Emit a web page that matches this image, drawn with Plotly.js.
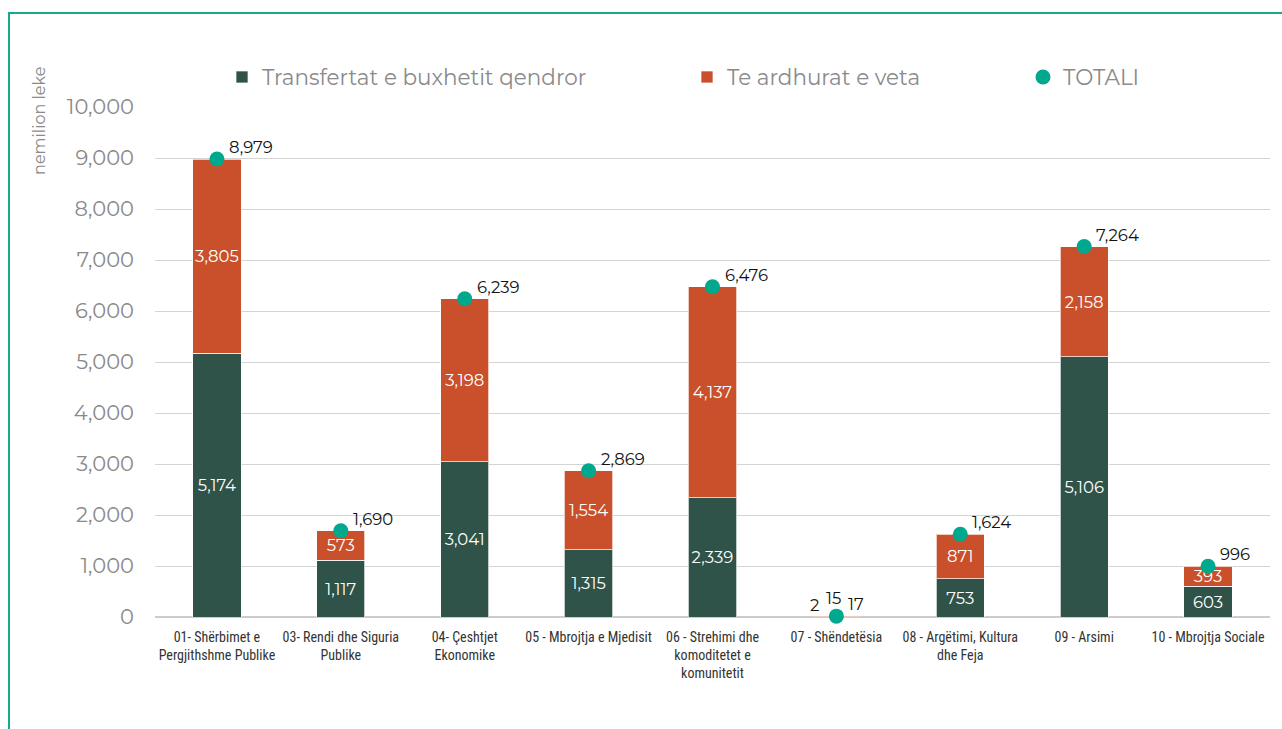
<!DOCTYPE html>
<html>
<head>
<meta charset="utf-8">
<script src="https://cdn.plot.ly/plotly-3.0.1.min.js"></script>
<style>
  html, body { margin: 0; padding: 0; background: #fff; }
  #frame { position: absolute; left: 8px; top: 12px; width: 1290px; height: 730px;
           border-left: 2px solid #16a98d; border-top: 2px solid #16a98d; }
  #chart { position: absolute; left: 0; top: 0; width: 1282px; height: 729px; }
</style>
</head>
<body>
<div id="frame"></div>
<div id="chart"></div>
<script>
const categories = [
  "01- Shërbimet e<br>Pergjithshme Publike",
  "03- Rendi dhe Siguria<br>Publike",
  "04- Çeshtjet<br>Ekonomike",
  "05 - Mbrojtja e Mjedisit",
  "06 - Strehimi dhe<br>komoditetet e<br>komunitetit",
  "07 - Shëndetësia",
  "08 - Argëtimi, Kultura<br>dhe Feja",
  "09 - Arsimi",
  "10 - Mbrojtja Sociale"
];
const transfertat = [5174, 1117, 3041, 1315, 2339, 2, 753, 5106, 603];
const teArdhurat  = [3805, 573, 3198, 1554, 4137, 15, 871, 2158, 393];
const totali      = [8979, 1690, 6239, 2869, 6476, 17, 1624, 7264, 996];
const seriesNames = ["Transfertat e buxhetit qendror", "Te ardhurat e veta", "TOTALI"];

const fmt = v => v.toLocaleString('en-US');
const SMALL = 100;
const GREEN = '#2f5249', ORANGE = '#c9502a', TEAL = '#00a88e';
const numFont = 'Montserrat, "Open Sans", Lato, sans-serif';
const catFont = '"Liberation Sans Narrow", "Roboto Condensed", "DejaVu Sans Condensed", sans-serif';

const barCommon = {
  type: 'bar', x: categories,
  textposition: 'inside', insidetextanchor: 'middle', textangle: 0,
  textfont: { family: numFont, size: 16.5, color: '#ffffff' },
  hoverinfo: 'skip', cliponaxis: false
};

const traces = [
  Object.assign({}, barCommon, {
    name: seriesNames[0], y: transfertat,
    text: transfertat.map(v => v < SMALL ? '' : fmt(v)),
    marker: { color: GREEN, line: { color: 'rgba(255,255,255,0.7)', width: 1 } },
    legend: 'legend'
  }),
  Object.assign({}, barCommon, {
    name: seriesNames[1], y: teArdhurat,
    text: teArdhurat.map(v => v < SMALL ? '' : fmt(v)),
    marker: { color: ORANGE, line: { color: 'rgba(255,255,255,0.7)', width: 1 } },
    legend: 'legend2'
  }),
  {
    type: 'scatter', mode: 'markers', name: seriesNames[2],
    x: categories, y: totali,
    marker: { color: TEAL, size: 15 },
    cliponaxis: false, hoverinfo: 'skip',
    legend: 'legend3'
  }
];

const labelFont = { family: numFont, size: 16.5, color: '#111111' };
const annotations = [];
categories.forEach((c, i) => {
  // total labels: up-right of each dot
  annotations.push({ x: c, y: totali[i], text: fmt(totali[i]), showarrow: false,
    xanchor: 'left', yanchor: 'middle', xshift: 10, yshift: 12, font: labelFont });
  // labels for tiny stacks that cannot hold inside text
  if (transfertat[i] < SMALL) {
    annotations.push({ x: c, y: 0, text: fmt(transfertat[i]), showarrow: false,
      xanchor: 'center', yanchor: 'middle', xshift: -22, yshift: 12, font: labelFont });
  }
  if (teArdhurat[i] < SMALL) {
    annotations.push({ x: c, y: transfertat[i] + teArdhurat[i], text: fmt(teArdhurat[i]), showarrow: false,
      xanchor: 'center', yanchor: 'middle', xshift: -3, yshift: 18, font: labelFont });
  }
});
annotations.push({
  xref: 'paper', yref: 'paper', x: -0.103, y: 0.973, text: 'nemilion leke',
  textangle: -90, showarrow: false, xanchor: 'center', yanchor: 'middle',
  font: { family: numFont, size: 16, color: '#8a8a8a' }
});

const legendBase = {
  orientation: 'h', xref: 'container', yref: 'container', yanchor: 'middle', xanchor: 'left',
  font: { family: numFont, size: 21.5, color: '#8a8a8a' }, bgcolor: 'rgba(0,0,0,0)', itemwidth: 30
};

const layout = {
  width: 1282, height: 729,
  margin: { l: 155, r: 12, t: 107, b: 112 },
  paper_bgcolor: 'rgba(0,0,0,0)', plot_bgcolor: 'rgba(0,0,0,0)',
  barmode: 'stack', bargap: 0.61,
  uniformtext: { mode: 'show', minsize: 16.5 },
  xaxis: {
    type: 'category', range: [-0.5, 8.5],
    tickfont: { family: catFont, size: 14, color: '#333333' },
    showgrid: false, zeroline: false, showline: false, ticks: '',
    ticklabelstandoff: 10, automargin: false
  },
  yaxis: {
    range: [0, 10000], dtick: 1000, tickformat: ',',
    tickfont: { family: numFont, size: 21, color: '#8a8a8a' },
    gridcolor: '#d4d4d4', gridwidth: 1, zeroline: true, zerolinecolor: '#cccccc', zerolinewidth: 2,
    ticks: '', ticklabelstandoff: 20, automargin: false
  },
  showlegend: true,
  legend: Object.assign({}, legendBase, { x: 222 / 1282, y: 1 - 77 / 729 }),
  legend2: Object.assign({}, legendBase, { x: 687 / 1282, y: 1 - 77 / 729 }),
  legend3: Object.assign({}, legendBase, { x: 1023 / 1282, y: 1 - 77 / 729 }),
  annotations: annotations
};

Plotly.newPlot('chart', traces, layout, { staticPlot: true, displayModeBar: false });
</script>
</body>
</html>
